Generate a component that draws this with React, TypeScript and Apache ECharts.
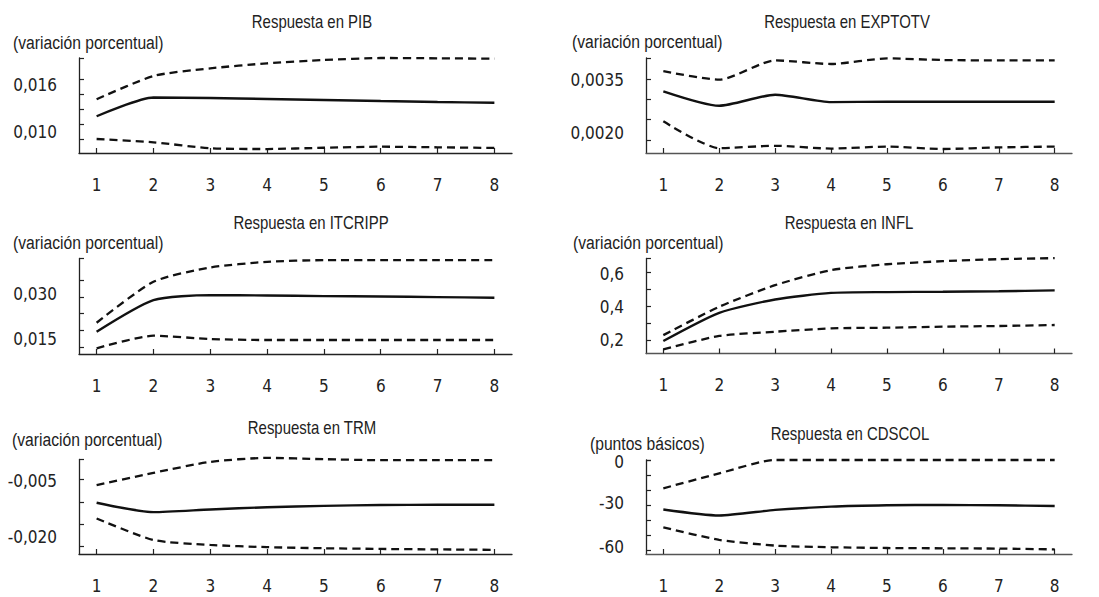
import React, { useEffect, useRef } from "react";
import * as echarts from "echarts";

// Horizon (periods)
const periods = [1, 2, 3, 4, 5, 6, 7, 8];

// Respuesta en PIB
const pibUpper = [0.01336, 0.01647, 0.01749, 0.01816, 0.0186, 0.01887, 0.01883, 0.01878];
const pibCentral = [0.0111, 0.0136, 0.01353, 0.0134, 0.01327, 0.01313, 0.013, 0.01291];
const pibLower = [0.00807, 0.00763, 0.00683, 0.00673, 0.0069, 0.00704, 0.00696, 0.00687];

// Respuesta en EXPTOTV
const expUpper = [0.00371, 0.0035, 0.00398, 0.00389, 0.00403, 0.00399, 0.00398, 0.00398];
const expCentral = [0.00321, 0.00285, 0.003125, 0.00294, 0.00295, 0.00295, 0.00295, 0.00295];
const expLower = [0.00246, 0.00179, 0.00185, 0.00178, 0.00183, 0.00177, 0.00181, 0.00183];

// Respuesta en ITCRIPP
const itcUpper = [0.0223, 0.0346, 0.0389, 0.0406, 0.0411, 0.0411, 0.0411, 0.0411];
const itcCentral = [0.0196, 0.0291, 0.0306, 0.0305, 0.0303, 0.0302, 0.03, 0.0298];
const itcLower = [0.0146, 0.0184, 0.0174, 0.0171, 0.0171, 0.0171, 0.0171, 0.0171];

// Respuesta en INFL
const inflUpper = [0.229, 0.397, 0.525, 0.614, 0.649, 0.667, 0.679, 0.685];
const inflCentral = [0.194, 0.361, 0.44, 0.479, 0.484, 0.486, 0.489, 0.494];
const inflLower = [0.145, 0.224, 0.249, 0.269, 0.273, 0.279, 0.283, 0.289];

// Respuesta en TRM
const trmUpper = [-0.00627, -0.00353, -0.00108, -0.00019, -0.00048, -0.0007, -0.0007, -0.0007];
const trmCentral = [-0.0102, -0.0123, -0.0117, -0.0112, -0.0109, -0.0107, -0.01065, -0.01065];
const trmLower = [-0.0137, -0.0185, -0.0196, -0.0201, -0.02035, -0.0205, -0.0206, -0.0207];

// Respuesta en CDSCOL
const cdsUpper = [-18.9, -8.9, 0, 0, 0, 0, 0, 0];
const cdsCentral = [-33, -37, -33.3, -31.1, -30.2, -30, -30.2, -30.7];
const cdsLower = [-44.9, -53.3, -57.1, -58.2, -58.7, -58.9, -59.1, -59.6];

// Titles and units
const titles = [
  "Respuesta en PIB",
  "Respuesta en EXPTOTV",
  "Respuesta en ITCRIPP",
  "Respuesta en INFL",
  "Respuesta en TRM",
  "Respuesta en CDSCOL",
];
const units = [
  "(variación porcentual)",
  "(variación porcentual)",
  "(variación porcentual)",
  "(variación porcentual)",
  "(variación porcentual)",
  "(puntos básicos)",
];

// Y-axis ranges, tick values and tick labels
const yMins = [0.0062, 0.00167, 0.0129, 0.12, -0.02163, -62.7];
const yMaxs = [0.01887, 0.00404, 0.0416, 0.683, -0.00055, 0];
const yTicks = [
  [0.008, 0.01, 0.012, 0.014, 0.016],
  [0.002, 0.0025, 0.003, 0.0035],
  [0.015, 0.02, 0.025, 0.03, 0.035],
  [0.2, 0.3, 0.4, 0.5, 0.6],
  [-0.02, -0.015, -0.01, -0.005],
  [-60, -50, -40, -30, -20, -10, 0],
];
const yLabels = [
  [0.01, 0.016],
  [0.002, 0.0035],
  [0.015, 0.03],
  [0.2, 0.4, 0.6],
  [-0.02, -0.005],
  [-60, -30, 0],
];
const yDecimals = [3, 4, 3, 1, 3, 0];

const AXIS_FONT = "'DejaVu Sans Condensed', 'Liberation Sans', sans-serif";
const TEXT_FONT = "'Liberation Sans', Arial, sans-serif";

export default function App() {
  const ref = useRef<HTMLDivElement>(null);

  useEffect(() => {
    document.body.style.margin = "0";
    if (!ref.current) return;
    const chart = echarts.init(ref.current, undefined, { renderer: "svg" });

    const uppers = [pibUpper, expUpper, itcUpper, inflUpper, trmUpper, cdsUpper];
    const centrals = [pibCentral, expCentral, itcCentral, inflCentral, trmCentral, cdsCentral];
    const lowers = [pibLower, expLower, itcLower, inflLower, trmLower, cdsLower];

    const grids = [
      { left: 79, top: 58, width: 433, height: 95 },
      { left: 646, top: 58, width: 426, height: 95 },
      { left: 79, top: 258.5, width: 433, height: 95.5 },
      { left: 646, top: 258.5, width: 426, height: 95 },
      { left: 79, top: 459.5, width: 433, height: 94.5 },
      { left: 646, top: 460, width: 426, height: 94 },
    ];
    const titlePos = [
      [312, 22],
      [847, 22],
      [311, 223],
      [849, 223],
      [312, 428],
      [850, 434],
    ];
    const unitPos = [
      [13, 43],
      [572, 42],
      [13, 243],
      [573, 243],
      [12, 440],
      [590, 444],
    ];
    // vertical nudge (px, + = down) of each y tick label, as placed in the original figure
    const labelShift = [
      [7, 5],
      [-7, 0],
      [-8, -3],
      [0, 1, 1],
      [-10, 2],
      [-3, -2, 2],
    ];

    const xAxis: any[] = [];
    const yAxis: any[] = [];
    const series: any[] = [];
    const graphic: any[] = [];

    for (let i = 0; i < 6; i++) {
      const right = i % 2 === 1;
      xAxis.push({
        type: "value",
        gridIndex: i,
        min: 0.69,
        max: 8.31,
        splitLine: { show: false },
        axisLine: { show: true, onZero: false, lineStyle: { color: right ? "#555" : "#222", width: 1.3 } },
        axisTick: { show: true, inside: true, length: 5, customValues: periods, lineStyle: { color: "#222", width: 1.2 } },
        axisLabel: {
          customValues: periods,
          margin: 23,
          fontSize: 17,
          fontFamily: AXIS_FONT,
          color: "#222",
          formatter: (v: number) => String(v),
        },
      });
      const dec = yDecimals[i];
      const labs = yLabels[i];
      const shifts = labelShift[i];
      const rich: any = {};
      shifts.forEach((d, k) => {
        rich["s" + k] = {
          fontSize: 17,
          fontFamily: AXIS_FONT,
          color: "#222",
          padding: d >= 0 ? [2 * d, 0, 0, 0] : [0, 0, -2 * d, 0],
        };
      });
      yAxis.push({
        type: "value",
        gridIndex: i,
        min: yMins[i],
        max: yMaxs[i],
        splitLine: { show: false },
        axisLine: { show: true, onZero: false, lineStyle: { color: "#222", width: 1.3 } },
        axisTick: {
          show: true,
          inside: true,
          length: 5,
          customValues: [...yTicks[i], yMaxs[i]],
          lineStyle: { color: "#222", width: 1.2 },
        },
        axisLabel: {
          customValues: labs,
          margin: 22,
          fontSize: 17,
          fontFamily: AXIS_FONT,
          color: "#222",
          rich,
          formatter: (v: number) => {
            let k = 0;
            let best = Infinity;
            labs.forEach((l, j) => {
              const d = Math.abs(l - v);
              if (d < best) {
                best = d;
                k = j;
              }
            });
            return "{s" + k + "|" + v.toFixed(dec).replace(".", ",") + "}";
          },
        },
      });
      const mk = (arr: number[]) => periods.map((p, k) => [p, arr[k]]);
      const common = {
        type: "line",
        xAxisIndex: i,
        yAxisIndex: i,
        symbol: "none",
        showSymbol: false,
        smooth: 0.22,
        clip: false,
        silent: true,
      };
      series.push({ ...common, name: "sup" + i, data: mk(uppers[i]), lineStyle: { color: "#111", width: 2.3, type: [8, 5] } });
      series.push({ ...common, name: "cen" + i, data: mk(centrals[i]), lineStyle: { color: "#111", width: 2.4, type: "solid" } });
      series.push({ ...common, name: "inf" + i, data: mk(lowers[i]), lineStyle: { color: "#111", width: 2.3, type: [8, 5] } });

      graphic.push({
        type: "text",
        x: titlePos[i][0],
        y: titlePos[i][1],
        scaleX: 0.83,
        style: {
          text: titles[i],
          fontSize: 18,
          fontFamily: TEXT_FONT,
          fill: "#222",
          textAlign: "center",
          textVerticalAlign: "middle",
        },
      });
      graphic.push({
        type: "text",
        x: unitPos[i][0],
        y: unitPos[i][1],
        scaleX: 0.87,
        style: {
          text: units[i],
          fontSize: 18,
          fontFamily: TEXT_FONT,
          fill: "#222",
          textAlign: "left",
          textVerticalAlign: "middle",
        },
      });
    }

    chart.setOption({
      animation: false,
      backgroundColor: "#ffffff",
      grid: grids,
      xAxis,
      yAxis,
      series,
      graphic,
    });

    return () => chart.dispose();
  }, []);

  return <div ref={ref} style={{ width: 1099, height: 597 }} />;
}
